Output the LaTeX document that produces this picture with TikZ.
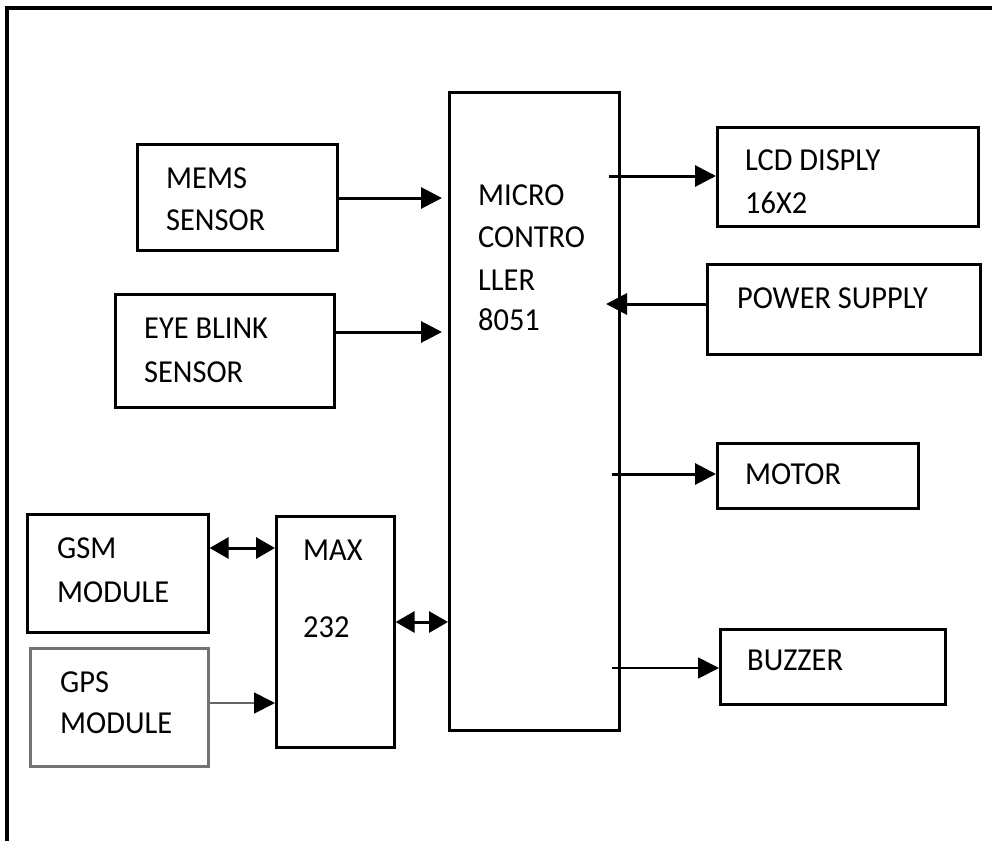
\documentclass[tikz,border=0pt]{standalone}
\usepackage{fontspec}
\setmainfont[FakeStretch=0.95]{Carlito}
\usetikzlibrary{arrows.meta}
\begin{document}
\begin{tikzpicture}[x=1pt,y=-1pt,
  box/.style={draw=black, line width=2.6pt, anchor=north west, inner sep=0pt},
  txt/.style={anchor=base west, inner sep=0pt, font=\fontsize{32}{38}\selectfont, text=black},
  arr/.style={line width=3pt, -{Triangle[length=21pt,width=21pt]}},
  darr/.style={line width=3pt, {Triangle[length=19pt,width=21pt]}-{Triangle[length=19pt,width=21pt]}},
  thinarr/.style={line width=1.8pt, -{Triangle[length=21pt,width=21pt,color=black]}}]
\useasboundingbox (0,0) rectangle (992,840);
\fill[white] (0,0) rectangle (992,840);
% frame
\draw[line width=4pt] (7,842) -- (7,8) -- (994,8);
% boxes
\node[box, minimum width=200pt, minimum height=106pt] (mems) at (136,143) {};
\node[box, minimum width=219pt, minimum height=113pt] (eye) at (114,293) {};
\node[box, minimum width=170pt, minimum height=638pt] (mcu) at (448,91) {};
\node[box, minimum width=261pt, minimum height=99pt] (lcd) at (716,126) {};
\node[box, minimum width=273pt, minimum height=90pt] (ps) at (706,263) {};
\node[box, minimum width=201pt, minimum height=65pt] (motor) at (716,442) {};
\node[box, minimum width=225pt, minimum height=75pt] (buzz) at (719,628) {};
\node[box, minimum width=181pt, minimum height=118pt] (gsm) at (26,513) {};
\node[box, draw=black!55, minimum width=178pt, minimum height=118pt] (gps) at (29,647) {};
\node[box, minimum width=118pt, minimum height=231pt] (max) at (275,515) {};
% texts
\node[txt] (memsA) at (166,188) {MEMS};
\node[txt] (memsB) at (166,230) {SENSOR};
\node[txt] (eyeA) at (144,338) {EYE BLINK};
\node[txt] (eyeB) at (144,382) {SENSOR};
\node[txt] (mcuA) at (478,205) {MICRO};
\node[txt] (mcuB) at (478,247) {CONTRO};
\node[txt] (mcuC) at (478,290) {LLER};
\node[txt] (mcuD) at (478,330) {8051};
\node[txt] (lcdA) at (745,170) {LCD DISPLY};
\node[txt] (lcdB) at (745,213) {16X2};
\node[txt] (psA) at (737,308) {POWER SUPPLY};
\node[txt] (motorA) at (745,484) {MOTOR};
\node[txt] (buzzA) at (747,670) {BUZZER};
\node[txt] (gsmA) at (57,558) {GSM};
\node[txt] (gsmB) at (57,602) {MODULE};
\node[txt] (gpsA) at (60,692) {GPS};
\node[txt] (gpsB) at (60,733) {MODULE};
\node[txt] (maxA) at (303,560) {MAX};
\node[txt] (maxB) at (303,637) {232};
% arrow levels
\coordinate (yMems) at (0,198);
\coordinate (yEye) at (0,332);
\coordinate (yLcd) at (609,176);
\coordinate (yPs) at (606,304);
\coordinate (yMotor) at (612,474);
\coordinate (yBuzz) at (612,668);
\coordinate (yGsm) at (0,548);
\coordinate (yGps) at (0,703);
\coordinate (yMax) at (0,622);
% connectors
\draw[arr, shorten >=6pt] (mems.east |- yMems) -- (mcu.west |- yMems);
\draw[arr, shorten >=6pt] (eye.east |- yEye) -- (mcu.west |- yEye);
\draw[arr] (yLcd) -- (lcd.west |- yLcd);
\draw[arr] (ps.west |- yPs) -- (yPs);
\draw[arr] (yMotor) -- (motor.west |- yMotor);
\draw[thinarr] (yBuzz) -- (buzz.west |- yBuzz);
\draw[darr] (gsm.east |- yGsm) -- (max.west |- yGsm);
\draw[thinarr, draw=black!60] (gps.east |- yGps) -- (max.west |- yGps);
\draw[darr] (max.east |- yMax) -- (mcu.west |- yMax);
\end{tikzpicture}
\end{document}
